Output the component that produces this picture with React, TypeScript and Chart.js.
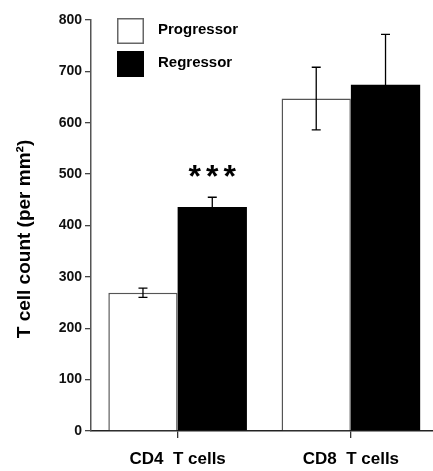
import React, { useEffect, useRef } from "react";
import { Chart, registerables } from "chart.js";

Chart.register(...registerables);

const categories = ["CD4  T cells", "CD8  T cells"];
const seriesNames = ["Progressor", "Regressor"];
const progressor = [269, 647];
const regressor = [436, 674];
const progressorErr = [9, 61];
const regressorErr = [19, 98];
const yMin = 0;
const yMax = 800;
const yStep = 100;
const yTitle = "T cell count (per mm²)";
const significance = ["***", ""];

const FONT = "'Liberation Sans', Arial, Helvetica, sans-serif";

const errorBarPlugin = {
  id: "errorBars",
  afterDatasetsDraw(chart: any) {
    const ctx = chart.ctx;
    const yScale = chart.scales.y;
    const errs = [progressorErr, regressorErr];
    const vals = [progressor, regressor];
    ctx.save();
    ctx.strokeStyle = "#000";
    ctx.lineWidth = 1.3;
    for (let d = 0; d < 2; d++) {
      const meta = chart.getDatasetMeta(d);
      meta.data.forEach((el: any, i: number) => {
        const x = el.x;
        const top = yScale.getPixelForValue(vals[d][i] + errs[d][i]);
        const bot = yScale.getPixelForValue(vals[d][i] - errs[d][i]);
        const cap = 4.5;
        ctx.beginPath();
        ctx.moveTo(x, top);
        ctx.lineTo(x, bot);
        ctx.moveTo(x - cap, top);
        ctx.lineTo(x + cap, top);
        ctx.moveTo(x - cap, bot);
        ctx.lineTo(x + cap, bot);
        ctx.stroke();
      });
    }
    // significance marks above regressor bars
    const meta1 = chart.getDatasetMeta(1);
    ctx.fillStyle = "#000";
    ctx.font = `bold 32px ${FONT}`;
    ctx.textAlign = "center";
    ctx.textBaseline = "middle";
    (ctx as any).letterSpacing = "5px";
    meta1.data.forEach((el: any, i: number) => {
      if (!significance[i]) return;
      const y = yScale.getPixelForValue(regressor[i] + regressorErr[i]) - 22;
      ctx.fillText(significance[i], el.x + 2.5, y + 3);
    });
    (ctx as any).letterSpacing = "0px";
    ctx.restore();
  },
};

const decorPlugin = {
  id: "decor",
  afterDraw(chart: any) {
    const ctx = chart.ctx;
    ctx.save();
    // legend
    const boxX = 117;
    const boxW = 27;
    const boxH = 26;
    const rows = [18, 51];
    const fills = ["#fff", "#000"];
    const strokes = ["#666", "#000"];
    rows.forEach((y, i) => {
      ctx.fillStyle = fills[i];
      ctx.fillRect(boxX, y, boxW, boxH);
      ctx.strokeStyle = strokes[i];
      ctx.lineWidth = 1.5;
      ctx.strokeRect(boxX + 0.75, y + 0.75, boxW - 1.5, boxH - 1.5);
      ctx.fillStyle = "#000";
      ctx.font = `bold 15px ${FONT}`;
      ctx.textAlign = "left";
      ctx.textBaseline = "middle";
      ctx.fillText(seriesNames[i], 158, y + 12);
    });
    // y title
    ctx.translate(25, 239);
    ctx.rotate(-Math.PI / 2);
    ctx.font = `bold 19px ${FONT}`;
    ctx.textAlign = "center";
    ctx.textBaseline = "middle";
    ctx.fillStyle = "#000";
    ctx.fillText(yTitle, 0, 0);
    ctx.restore();
  },
};

export default function App() {
  const ref = useRef<HTMLCanvasElement>(null);
  useEffect(() => {
    if (!ref.current) return;
    const chart = new Chart(ref.current, {
      type: "bar",
      data: {
        labels: categories,
        datasets: [
          {
            label: seriesNames[0],
            data: progressor,
            backgroundColor: "#fff",
            borderColor: "#555",
            borderWidth: 1.5,
            categoryPercentage: 0.8,
            barPercentage: 1,
          },
          {
            label: seriesNames[1],
            data: regressor,
            backgroundColor: "#000",
            borderColor: "#000",
            borderWidth: 0,
            categoryPercentage: 0.8,
            barPercentage: 1,
          },
        ],
      },
      options: {
        responsive: false,
        animation: false,
        layout: { padding: { top: 20, right: 7.5, left: 0, bottom: 0 } },
        plugins: { legend: { display: false }, tooltip: { enabled: false } },
        scales: {
          x: {
            type: "category",
            offset: true,
            grid: {
              display: true,
              drawOnChartArea: false,
              drawTicks: true,
              tickLength: 7,
              offset: false,
              color: "#333",
              lineWidth: 1.3,
            },
            border: { display: true, color: "#222", width: 1.5 },
            ticks: {
              color: "#000",
              font: { family: FONT, size: 17, weight: "bold" },
              padding: 11,
              maxRotation: 0,
            },
            afterFit: (s: any) => {
              s.height = 40;
            },
          },
          y: {
            min: yMin,
            max: yMax,
            grid: {
              display: true,
              drawOnChartArea: false,
              drawTicks: true,
              tickLength: 6,
              color: "#444",
              lineWidth: 1.3,
            },
            border: { display: true, color: "#555", width: 1.5 },
            ticks: {
              stepSize: yStep,
              color: "#111",
              font: { family: FONT, size: 14, weight: "bold" },
              padding: 3,
            },
            afterFit: (s: any) => {
              s.width = 91;
            },
          },
        },
      },
      plugins: [errorBarPlugin, decorPlugin],
    } as any);
    return () => chart.destroy();
  }, []);
  return (
    <div
      style={{
        position: "fixed",
        left: 0,
        top: 0,
        width: 433,
        height: 471,
        overflow: "hidden",
        background: "#fff",
      }}
    >
      <canvas ref={ref} width={445} height={471} style={{ display: "block", width: 445, height: 471 }} />
    </div>
  );
}
